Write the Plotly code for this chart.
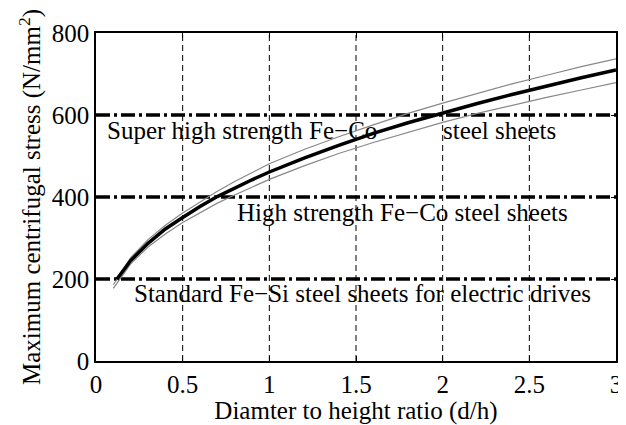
import plotly.graph_objects as go

# Data
ratio_main = [0.12, 0.2, 0.3, 0.4, 0.5, 0.6, 0.7, 0.8, 0.9, 1.0, 1.2, 1.4, 1.6, 1.8,
              2.0, 2.2, 2.4, 2.6, 2.8, 3.0]
stress_main = [199, 245, 287, 322, 350, 377, 401, 422, 442, 461, 495, 526, 555, 581,
               605, 628, 650, 671, 691, 710]

ratio_band = [0.1, 0.2, 0.3, 0.4, 0.5, 0.6, 0.7, 0.8, 0.9, 1.0, 1.2, 1.4, 1.6, 1.8,
              2.0, 2.2, 2.4, 2.6, 2.8, 3.0]
stress_upper = [186, 252, 296, 331, 361, 388, 414, 438, 460, 481, 516, 547, 576, 604,
                629, 653, 676, 697, 718, 737]
stress_lower = [177, 237, 278, 310, 338, 362, 385, 405, 424, 443, 476, 506, 533, 558,
                582, 604, 624, 643, 661, 679]

limit_levels = [200, 400, 600]
limit_x = [0, 3]

x_ticks = [0, 0.5, 1, 1.5, 2, 2.5, 3]
x_tick_text = ["0", "0.5", "1", "1.5", "2", "2.5", "3"]
y_ticks = [0, 200, 400, 600, 800]
y_tick_text = ["0", "200", "400", "600", "800"]

labels = [
    ("Super high strength Fe\u2212Co", 0.05, 563),
    ("steel sheets", 1.99, 563),
    ("High strength Fe\u2212Co steel sheets", 0.80, 363),
    ("Standard Fe\u2212Si steel sheets for electric drives", 0.205, 165),
]

FONT = "Liberation Serif, Times New Roman, serif"
FS = 25

fig = go.Figure()

# vertical dashed grid lines
for xv in x_ticks[1:-1]:
    fig.add_trace(go.Scatter(x=[xv, xv], y=[0, 800], mode="lines",
                             line=dict(color="black", width=1, dash="6px,4px"),
                             hoverinfo="skip", showlegend=False))

for lv in limit_levels:
    fig.add_trace(go.Scatter(x=limit_x, y=[lv, lv], mode="lines",
                             line=dict(color="black", width=3.5, dash="14px,4px,3px,4px"),
                             hoverinfo="skip", showlegend=False))

fig.add_trace(go.Scatter(x=ratio_band, y=stress_upper, mode="lines",
                         line=dict(color="#888888", width=1.2), showlegend=False))
fig.add_trace(go.Scatter(x=ratio_band, y=stress_lower, mode="lines",
                         line=dict(color="#888888", width=1.2), showlegend=False))
fig.add_trace(go.Scatter(x=ratio_main, y=stress_main, mode="lines",
                         line=dict(color="black", width=3.5), showlegend=False))

for txt, xv, yv in labels:
    fig.add_annotation(x=xv, y=yv, text=txt, showarrow=False, xanchor="left",
                       yanchor="middle", font=dict(family=FONT, size=FS, color="black"))

axis_common = dict(showgrid=False, zeroline=False, showline=True, linecolor="black",
                   linewidth=1.5, mirror="ticks", ticks="inside", ticklen=5,
                   tickcolor="black", ticklabeloverflow="allow",
                   tickfont=dict(family=FONT, size=FS, color="black"))

fig.update_xaxes(range=[0, 3], tickvals=x_ticks, ticktext=x_tick_text,
                 title=dict(text="Diamter to height ratio (d/h)",
                            font=dict(family=FONT, size=FS, color="black"), standoff=2),
                 **axis_common)
fig.update_yaxes(range=[0, 800], tickvals=y_ticks, ticktext=y_tick_text,
                 title=dict(text="Maximum centrifugal stress (N/mm<sup>2</sup>)",
                            font=dict(family=FONT, size=FS, color="black"), standoff=4),
                 **axis_common)

# page has an 8px body margin; shrink the figure so the plot area lands where the reference has it
fig.update_layout(width=618, height=417, paper_bgcolor="white", plot_bgcolor="white",
                  margin=dict(l=88, r=4, t=25, b=64), showlegend=False)

fig.write_html("out.html")
